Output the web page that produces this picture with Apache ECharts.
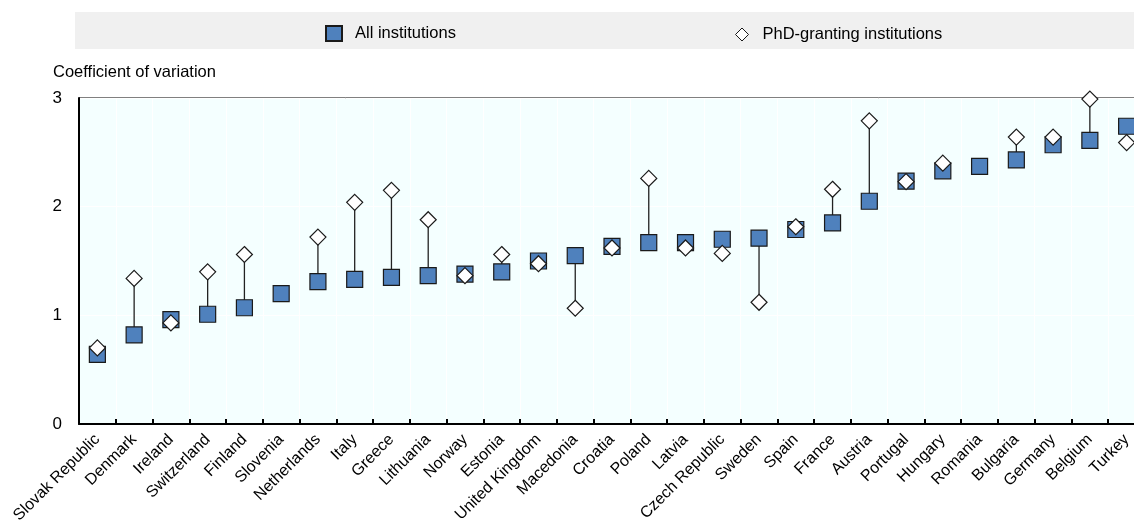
<!DOCTYPE html>
<html>
<head>
<meta charset="utf-8">
<script src="https://cdn.jsdelivr.net/npm/echarts@6/dist/echarts.min.js"></script>
<style>
html,body{margin:0;padding:0;background:#fff;overflow:hidden;width:1134px;height:521px;}
#chart{width:1150px;height:521px;}
</style>
</head>
<body>
<div id="chart"></div>
<script>
var categories = ["Slovak Republic","Denmark","Ireland","Switzerland","Finland","Slovenia","Netherlands","Italy","Greece","Lithuania","Norway","Estonia","United Kingdom","Macedonia","Croatia","Poland","Latvia","Czech Republic","Sweden","Spain","France","Austria","Portugal","Hungary","Romania","Bulgaria","Germany","Belgium","Turkey"];
var allInstitutions = [0.64,0.82,0.96,1.01,1.07,1.20,1.31,1.33,1.35,1.365,1.38,1.40,1.50,1.55,1.635,1.67,1.67,1.70,1.71,1.79,1.85,2.05,2.235,2.33,2.37,2.43,2.57,2.61,2.74];
var phdInstitutions = [0.70,1.34,0.93,1.40,1.56,null,1.72,2.04,2.15,1.88,1.365,1.56,1.475,1.065,1.62,2.26,1.62,1.57,1.12,1.815,2.16,2.79,2.23,2.40,null,2.64,2.64,2.99,2.59];
var yTicks = [0,1,2,3];

var FONT = "'Liberation Sans',Arial,sans-serif";

var linkData = categories.map(function(c,i){
  return [i, allInstitutions[i], phdInstitutions[i]];
}).filter(function(d){ return d[2] !== null; });

var chart = echarts.init(document.getElementById('chart'), null, {renderer:'canvas', width:1150, height:521});
chart.setOption({
  animation:false,
  title:{
    text:'Coefficient of variation', left:48, top:59,
    textStyle:{fontFamily:FONT, fontSize:16.5, fontWeight:'normal', color:'#000'}
  },
  graphic:[{
    type:'rect', left:75, top:12, z:-10,
    shape:{width:1100, height:37},
    style:{fill:'#F0F0F0'}
  }],
  legend:[{
    left:320, top:20, itemWidth:16, itemHeight:15, itemGap:0,
    data:[{name:'All institutions', icon:'rect'}],
    textStyle:{fontFamily:FONT, fontSize:16.5, color:'#000', padding:[0,0,0,8]}
  },{
    left:730, top:21, itemWidth:13, itemHeight:13,
    data:[{name:'PhD-granting institutions', icon:'diamond', itemStyle:{borderWidth:1}}],
    textStyle:{fontFamily:FONT, fontSize:16.5, color:'#000', padding:[0,0,0,9]}
  }],
  grid:{left:79, top:98, width:1066, height:326, outerBoundsMode:'none', containLabel:false, show:true, backgroundColor:'#F4FFFF', borderColor:'#000', borderWidth:1},
  xAxis:{
    type:'category', data:categories, boundaryGap:true,
    axisLine:{show:true, lineStyle:{color:'#000', width:2}},
    axisTick:{show:true, inside:true, length:5, interval:0, lineStyle:{color:'#000', width:2}},
    splitLine:{show:true, interval:0, lineStyle:{color:'#FFFFFF', width:1}},
    axisLabel:{interval:0, rotate:45, margin:13, color:'#000', fontFamily:FONT, fontSize:16}
  },
  yAxis:{
    type:'value', min:yTicks[0], max:yTicks[yTicks.length-1], interval:1,
    axisLine:{show:true, lineStyle:{color:'#000', width:2}},
    axisTick:{show:false},
    splitLine:{show:true, lineStyle:{color:'#FFFFFF', width:1}},
    axisLabel:{margin:17, color:'#000', fontFamily:FONT, fontSize:17}
  },
  series:[{
    type:'custom', name:'link', silent:true, z:1,
    data:linkData,
    encode:{x:0, y:[1,2]},
    renderItem:function(params, api){
      var p1 = api.coord([api.value(0), api.value(1)]);
      var p2 = api.coord([api.value(0), api.value(2)]);
      return {type:'line', shape:{x1:p1[0], y1:p1[1], x2:p2[0], y2:p2[1]}, style:{stroke:'#222', lineWidth:1.3}};
    }
  },{
    type:'scatter', name:'All institutions', z:2,
    symbol:'rect', symbolSize:16,
    itemStyle:{color:'#4F81BD', borderColor:'#1a1a1a', borderWidth:1.2, opacity:1},
    data:allInstitutions
  },{
    type:'scatter', name:'PhD-granting institutions', z:3,
    symbol:'diamond', symbolSize:16,
    itemStyle:{color:'#FFFFFF', borderColor:'#1a1a1a', borderWidth:1.2, opacity:1},
    data:phdInstitutions
  }]
});
</script>
</body>
</html>
